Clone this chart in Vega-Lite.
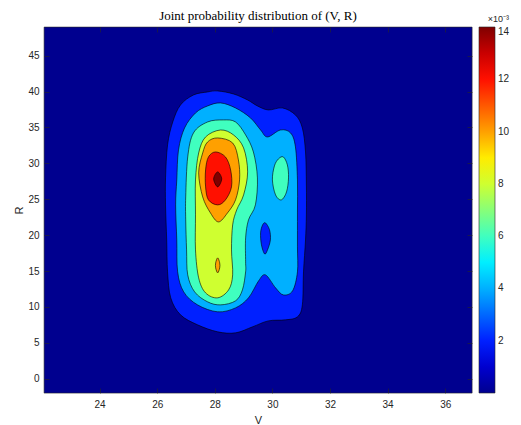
{
"$schema": "https://vega.github.io/schema/vega-lite/v6.json",
"width": 428, "height": 366,
"autosize": {"type": "none"},
"padding": {"left": 44, "top": 27, "right": 49, "bottom": 32},
"background": "white",
"title": {"text": "Joint probability distribution of (V, R)", "font": "Liberation Serif", "fontSize": 13, "fontWeight": "normal", "color": "#000000", "offset": 7, "dy": 25, "baseline": "alphabetic", "anchor": "middle"},
"config": {
  "view": {"fill": "#00008f", "stroke": "#262626", "strokeWidth": 0.6},
  "axis": {"domain": false, "grid": false, "tickColor": "#262626", "tickSize": -5, "tickWidth": 0.6, "labelColor": "#262626", "labelFont": "Liberation Sans", "labelFontSize": 10, "titleFont": "Liberation Sans", "titleFontSize": 11, "titleColor": "#262626", "titleFontWeight": "normal"},
  "axisX": {"labelPadding": 11, "titlePadding": 5},
  "axisY": {"labelPadding": 10, "titlePadding": 3}
},
"data": {"values": [
{"p":"p01","lv":0.002,"i":0,"V":28.10,"R":40.09},
{"p":"p01","lv":0.002,"i":1,"V":28.65,"R":39.67},
{"p":"p01","lv":0.002,"i":2,"V":29.14,"R":38.83},
{"p":"p01","lv":0.002,"i":3,"V":29.48,"R":38.00},
{"p":"p01","lv":0.002,"i":4,"V":29.86,"R":37.44},
{"p":"p01","lv":0.002,"i":5,"V":30.35,"R":37.72},
{"p":"p01","lv":0.002,"i":6,"V":30.80,"R":36.74},
{"p":"p01","lv":0.002,"i":7,"V":31.04,"R":34.93},
{"p":"p01","lv":0.002,"i":8,"V":31.15,"R":31.59},
{"p":"p01","lv":0.002,"i":9,"V":31.18,"R":26.99},
{"p":"p01","lv":0.002,"i":10,"V":31.18,"R":22.82},
{"p":"p01","lv":0.002,"i":11,"V":31.15,"R":19.33},
{"p":"p01","lv":0.002,"i":12,"V":31.08,"R":14.88},
{"p":"p01","lv":0.002,"i":13,"V":31.04,"R":10.28},
{"p":"p01","lv":0.002,"i":14,"V":30.87,"R":8.61},
{"p":"p01","lv":0.002,"i":15,"V":30.45,"R":8.19},
{"p":"p01","lv":0.002,"i":16,"V":29.86,"R":8.05},
{"p":"p01","lv":0.002,"i":17,"V":29.31,"R":7.22},
{"p":"p01","lv":0.002,"i":18,"V":28.72,"R":6.38},
{"p":"p01","lv":0.002,"i":19,"V":28.10,"R":6.52},
{"p":"p01","lv":0.002,"i":20,"V":27.40,"R":7.50},
{"p":"p01","lv":0.002,"i":21,"V":26.81,"R":8.89},
{"p":"p01","lv":0.002,"i":22,"V":26.47,"R":11.26},
{"p":"p01","lv":0.002,"i":23,"V":26.36,"R":14.88},
{"p":"p01","lv":0.002,"i":24,"V":26.33,"R":19.33},
{"p":"p01","lv":0.002,"i":25,"V":26.29,"R":24.21},
{"p":"p01","lv":0.002,"i":26,"V":26.29,"R":27.97},
{"p":"p01","lv":0.002,"i":27,"V":26.36,"R":32.57},
{"p":"p01","lv":0.002,"i":28,"V":26.54,"R":35.77},
{"p":"p01","lv":0.002,"i":29,"V":26.81,"R":38.14},
{"p":"p01","lv":0.002,"i":30,"V":27.26,"R":39.53},
{"p":"p01","lv":0.002,"i":31,"V":27.75,"R":39.95},
{"p":"p02","lv":0.004,"i":0,"V":28.20,"R":38.42},
{"p":"p02","lv":0.004,"i":1,"V":28.72,"R":37.72},
{"p":"p02","lv":0.004,"i":2,"V":29.24,"R":36.33},
{"p":"p02","lv":0.004,"i":3,"V":29.59,"R":34.65},
{"p":"p02","lv":0.004,"i":4,"V":29.83,"R":33.68},
{"p":"p02","lv":0.004,"i":5,"V":30.28,"R":34.65},
{"p":"p02","lv":0.004,"i":6,"V":30.63,"R":34.24},
{"p":"p02","lv":0.004,"i":7,"V":30.80,"R":32.29},
{"p":"p02","lv":0.004,"i":8,"V":30.87,"R":27.69},
{"p":"p02","lv":0.004,"i":9,"V":30.87,"R":23.09},
{"p":"p02","lv":0.004,"i":10,"V":30.87,"R":18.36},
{"p":"p02","lv":0.004,"i":11,"V":30.87,"R":14.88},
{"p":"p02","lv":0.004,"i":12,"V":30.70,"R":12.23},
{"p":"p02","lv":0.004,"i":13,"V":30.38,"R":11.67},
{"p":"p02","lv":0.004,"i":14,"V":30.11,"R":12.65},
{"p":"p02","lv":0.004,"i":15,"V":29.76,"R":14.46},
{"p":"p02","lv":0.004,"i":16,"V":29.52,"R":13.62},
{"p":"p02","lv":0.004,"i":17,"V":29.17,"R":11.26},
{"p":"p02","lv":0.004,"i":18,"V":28.72,"R":9.86},
{"p":"p02","lv":0.004,"i":19,"V":28.10,"R":9.31},
{"p":"p02","lv":0.004,"i":20,"V":27.40,"R":10.28},
{"p":"p02","lv":0.004,"i":21,"V":26.92,"R":12.09},
{"p":"p02","lv":0.004,"i":22,"V":26.71,"R":14.88},
{"p":"p02","lv":0.004,"i":23,"V":26.68,"R":19.33},
{"p":"p02","lv":0.004,"i":24,"V":26.64,"R":24.21},
{"p":"p02","lv":0.004,"i":25,"V":26.68,"R":27.69},
{"p":"p02","lv":0.004,"i":26,"V":26.74,"R":31.87},
{"p":"p02","lv":0.004,"i":27,"V":26.95,"R":34.93},
{"p":"p02","lv":0.004,"i":28,"V":27.33,"R":37.02},
{"p":"p02","lv":0.004,"i":29,"V":27.75,"R":38.00},
{"p":"p03","lv":0.002,"i":0,"V":29.76,"R":21.70},
{"p":"p03","lv":0.002,"i":1,"V":29.90,"R":20.73},
{"p":"p03","lv":0.002,"i":2,"V":29.93,"R":19.33},
{"p":"p03","lv":0.002,"i":3,"V":29.83,"R":17.94},
{"p":"p03","lv":0.002,"i":4,"V":29.73,"R":17.38},
{"p":"p03","lv":0.002,"i":5,"V":29.62,"R":18.64},
{"p":"p03","lv":0.002,"i":6,"V":29.59,"R":20.31},
{"p":"p03","lv":0.002,"i":7,"V":29.66,"R":21.42},
{"p":"p04","lv":0.006,"i":0,"V":28.30,"R":36.05},
{"p":"p04","lv":0.006,"i":1,"V":28.72,"R":35.77},
{"p":"p04","lv":0.006,"i":2,"V":29.07,"R":33.96},
{"p":"p04","lv":0.006,"i":3,"V":29.34,"R":31.59},
{"p":"p04","lv":0.006,"i":4,"V":29.48,"R":27.97},
{"p":"p04","lv":0.006,"i":5,"V":29.41,"R":24.21},
{"p":"p04","lv":0.006,"i":6,"V":29.17,"R":22.12},
{"p":"p04","lv":0.006,"i":7,"V":29.07,"R":19.61},
{"p":"p04","lv":0.006,"i":8,"V":29.07,"R":16.27},
{"p":"p04","lv":0.006,"i":9,"V":29.07,"R":14.88},
{"p":"p04","lv":0.006,"i":10,"V":28.96,"R":12.37},
{"p":"p04","lv":0.006,"i":11,"V":28.72,"R":10.84},
{"p":"p04","lv":0.006,"i":12,"V":28.20,"R":10.28},
{"p":"p04","lv":0.006,"i":13,"V":27.75,"R":10.70},
{"p":"p04","lv":0.006,"i":14,"V":27.30,"R":12.09},
{"p":"p04","lv":0.006,"i":15,"V":27.06,"R":14.46},
{"p":"p04","lv":0.006,"i":16,"V":27.02,"R":17.94},
{"p":"p04","lv":0.006,"i":17,"V":26.99,"R":22.12},
{"p":"p04","lv":0.006,"i":18,"V":26.99,"R":25.32},
{"p":"p04","lv":0.006,"i":19,"V":27.06,"R":30.89},
{"p":"p04","lv":0.006,"i":20,"V":27.26,"R":34.24},
{"p":"p04","lv":0.006,"i":21,"V":27.75,"R":35.77},
{"p":"p05","lv":0.006,"i":0,"V":30.38,"R":30.89},
{"p":"p05","lv":0.006,"i":1,"V":30.52,"R":29.78},
{"p":"p05","lv":0.006,"i":2,"V":30.56,"R":27.97},
{"p":"p05","lv":0.006,"i":3,"V":30.49,"R":26.02},
{"p":"p05","lv":0.006,"i":4,"V":30.31,"R":24.91},
{"p":"p05","lv":0.006,"i":5,"V":30.11,"R":25.60},
{"p":"p05","lv":0.006,"i":6,"V":30.00,"R":27.69},
{"p":"p05","lv":0.006,"i":7,"V":30.07,"R":29.64},
{"p":"p05","lv":0.006,"i":8,"V":30.21,"R":30.62},
{"p":"p06","lv":0.008,"i":0,"V":28.20,"R":34.65},
{"p":"p06","lv":0.008,"i":1,"V":28.65,"R":33.96},
{"p":"p06","lv":0.008,"i":2,"V":29.00,"R":32.15},
{"p":"p06","lv":0.008,"i":3,"V":29.14,"R":28.81},
{"p":"p06","lv":0.008,"i":4,"V":29.00,"R":25.60},
{"p":"p06","lv":0.008,"i":5,"V":28.76,"R":23.51},
{"p":"p06","lv":0.008,"i":6,"V":28.62,"R":21.42},
{"p":"p06","lv":0.008,"i":7,"V":28.58,"R":17.94},
{"p":"p06","lv":0.008,"i":8,"V":28.62,"R":14.46},
{"p":"p06","lv":0.008,"i":9,"V":28.48,"R":12.37},
{"p":"p06","lv":0.008,"i":10,"V":28.10,"R":11.26},
{"p":"p06","lv":0.008,"i":11,"V":27.68,"R":11.95},
{"p":"p06","lv":0.008,"i":12,"V":27.44,"R":14.04},
{"p":"p06","lv":0.008,"i":13,"V":27.33,"R":17.94},
{"p":"p06","lv":0.008,"i":14,"V":27.33,"R":22.82},
{"p":"p06","lv":0.008,"i":15,"V":27.33,"R":27.69},
{"p":"p06","lv":0.008,"i":16,"V":27.44,"R":31.45},
{"p":"p06","lv":0.008,"i":17,"V":27.68,"R":33.68},
{"p":"p07","lv":0.010,"i":0,"V":28.10,"R":16.83},
{"p":"p07","lv":0.010,"i":1,"V":28.17,"R":16.13},
{"p":"p07","lv":0.010,"i":2,"V":28.17,"R":15.43},
{"p":"p07","lv":0.010,"i":3,"V":28.10,"R":14.74},
{"p":"p07","lv":0.010,"i":4,"V":28.03,"R":15.43},
{"p":"p07","lv":0.010,"i":5,"V":28.03,"R":16.13},
{"p":"p08","lv":0.010,"i":0,"V":28.10,"R":33.54},
{"p":"p08","lv":0.010,"i":1,"V":28.62,"R":32.84},
{"p":"p08","lv":0.010,"i":2,"V":28.82,"R":30.48},
{"p":"p08","lv":0.010,"i":3,"V":28.86,"R":27.69},
{"p":"p08","lv":0.010,"i":4,"V":28.72,"R":24.91},
{"p":"p08","lv":0.010,"i":5,"V":28.44,"R":23.09},
{"p":"p08","lv":0.010,"i":6,"V":28.13,"R":21.84},
{"p":"p08","lv":0.010,"i":7,"V":27.85,"R":23.09},
{"p":"p08","lv":0.010,"i":8,"V":27.58,"R":25.32},
{"p":"p08","lv":0.010,"i":9,"V":27.44,"R":28.67},
{"p":"p08","lv":0.010,"i":10,"V":27.58,"R":31.45},
{"p":"p08","lv":0.010,"i":11,"V":27.75,"R":32.98},
{"p":"p09","lv":0.012,"i":0,"V":28.03,"R":31.59},
{"p":"p09","lv":0.012,"i":1,"V":28.37,"R":30.89},
{"p":"p09","lv":0.012,"i":2,"V":28.55,"R":29.08},
{"p":"p09","lv":0.012,"i":3,"V":28.58,"R":26.72},
{"p":"p09","lv":0.012,"i":4,"V":28.37,"R":24.91},
{"p":"p09","lv":0.012,"i":5,"V":28.10,"R":24.21},
{"p":"p09","lv":0.012,"i":6,"V":27.78,"R":24.91},
{"p":"p09","lv":0.012,"i":7,"V":27.68,"R":26.72},
{"p":"p09","lv":0.012,"i":8,"V":27.68,"R":29.08},
{"p":"p09","lv":0.012,"i":9,"V":27.78,"R":30.89},
{"p":"p10","lv":0.014,"i":0,"V":28.10,"R":28.81},
{"p":"p10","lv":0.014,"i":1,"V":28.24,"R":27.83},
{"p":"p10","lv":0.014,"i":2,"V":28.10,"R":26.72},
{"p":"p10","lv":0.014,"i":3,"V":27.96,"R":27.83}
]},
"layer": [
  {
    "mark": {"type": "line", "interpolate": "cardinal-closed", "stroke": "#000000", "strokeWidth": 0.6},
    "encoding": {
      "x": {"field": "V", "type": "quantitative", "scale": {"domain": [22.07, 36.93], "nice": false, "zero": false}, "axis": {"orient": "bottom", "values": [24, 26, 28, 30, 32, 34, 36], "title": "V"}},
      "y": {"field": "R", "type": "quantitative", "scale": {"domain": [-2, 49], "nice": false, "zero": false}, "axis": {"orient": "left", "values": [0, 5, 10, 15, 20, 25, 30, 35, 40, 45], "title": "R"}},
      "fill": {"field": "lv", "type": "quantitative",
        "scale": {"domain": [0, 0.00175, 0.002, 0.004, 0.00525, 0.006, 0.008, 0.00875, 0.01, 0.012, 0.01225, 0.014],
                  "range": ["#00008f", "#0000ff", "#0020ff", "#00b0ff", "#00ffff", "#40ffbf", "#cfff30", "#ffff00", "#ffa000", "#ff1000", "#ff0000", "#800000"], "interpolate": "rgb"},
        "legend": {"type": "gradient", "orient": "none", "legendX": 435, "legendY": -12, "direction": "vertical", "gradientLength": 366, "gradientThickness": 16, "gradientStrokeColor": "#262626", "gradientStrokeWidth": 0.6, "values": [0.002, 0.004, 0.006, 0.008, 0.01, 0.012, 0.014], "labelExpr": "round(datum.value*1000)", "labelFont": "Liberation Sans", "labelFontSize": 10, "labelColor": "#262626", "labelOffset": 3, "labelBaseline": "middle", "title": "×10⁻³", "titleFont": "Liberation Sans", "titleFontSize": 9, "titleFontWeight": "normal", "titleColor": "#262626", "titleOrient": "top", "titleAnchor": "end", "titlePadding": 3, "padding": 0}},
      "detail": {"field": "p"},
      "order": {"field": "i", "type": "quantitative"}
    }
  },
  {
    "mark": {"type": "point", "opacity": 0},
    "encoding": {
      "x": {"field": "V", "type": "quantitative", "scale": {"domain": [22.07, 36.93], "nice": false, "zero": false}, "axis": {"orient": "top", "values": [24, 26, 28, 30, 32, 34, 36], "labels": false, "title": null, "minExtent": 0, "maxExtent": 0, "labelPadding": 0}},
      "y": {"field": "R", "type": "quantitative", "scale": {"domain": [-2, 49], "nice": false, "zero": false}, "axis": {"orient": "right", "values": [0, 5, 10, 15, 20, 25, 30, 35, 40, 45], "labels": false, "title": null, "minExtent": 0, "maxExtent": 0, "labelPadding": 0}}
    }
  }
],
"resolve": {"axis": {"x": "independent", "y": "independent"}}
}
